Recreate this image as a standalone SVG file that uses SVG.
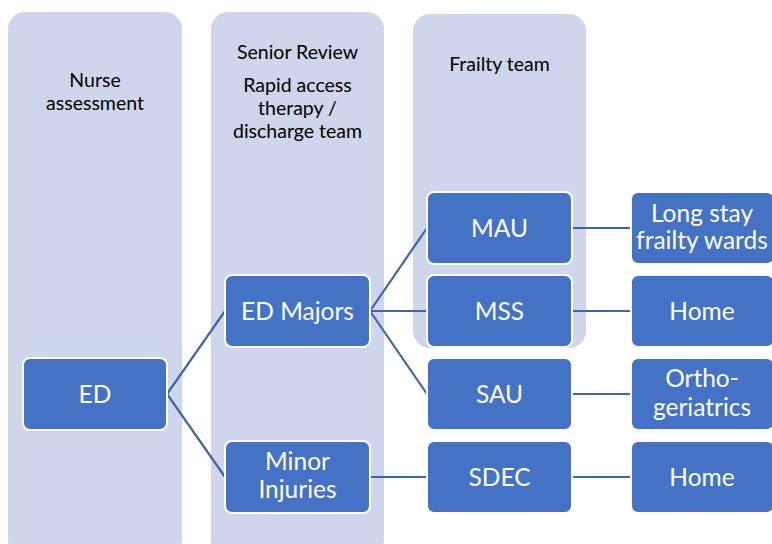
<svg xmlns="http://www.w3.org/2000/svg" width="772" height="544" viewBox="0 0 772 544">
<style>
.col{fill:#CFD5EA}
.node{fill:#4472C4;stroke:#FFFFFF;stroke-width:2}
.hdr{font-family:Lato,"Open Sans","Liberation Sans",sans-serif;font-size:19.5px;fill:#000;text-anchor:middle}
.lbl{font-family:Lato,"Open Sans","Liberation Sans",sans-serif;font-size:24.5px;fill:#FFF;text-anchor:middle}
.conn{stroke:#3F64A8;stroke-width:2.2;fill:none}
</style>
<rect width="772" height="544" fill="#FFFFFF"/>
<g id="columns">
<rect class="col" x="8" y="12" width="174" height="545" rx="17"/>
<rect class="col" x="211" y="12" width="173" height="545" rx="17"/>
<rect class="col" x="413" y="14" width="173" height="334" rx="17"/>
<text class="hdr" x="95" y="87">Nurse</text>
<text class="hdr" x="95" y="110">assessment</text>
<text class="hdr" x="297.5" y="59">Senior Review</text>
<text class="hdr" x="297.5" y="92">Rapid access</text>
<text class="hdr" x="297.5" y="115">therapy /</text>
<text class="hdr" x="297.5" y="138">discharge team</text>
<text class="hdr" x="499.5" y="71">Frailty team</text>
</g>
<g id="connectors">
<polyline class="conn" points="225,311 167,394 225,477"/>
<line class="conn" x1="370" y1="311" x2="427" y2="228"/>
<line class="conn" x1="370" y1="311" x2="427" y2="311"/>
<line class="conn" x1="370" y1="311" x2="427" y2="394"/>
<line class="conn" x1="370" y1="477" x2="427" y2="477"/>
<line class="conn" x1="572" y1="228" x2="631" y2="228"/>
<line class="conn" x1="572" y1="311" x2="631" y2="311"/>
<line class="conn" x1="572" y1="394" x2="631" y2="394"/>
<line class="conn" x1="572" y1="477" x2="631" y2="477"/>
</g>
<g id="ed"><rect class="node" x="23" y="358" width="144" height="72" rx="7"/><text class="lbl" x="95" y="403">ED</text></g>
<g id="ed-majors"><rect class="node" x="225" y="275" width="145" height="72" rx="7"/><text class="lbl" x="297.5" y="320">ED Majors</text></g>
<g id="minor-injuries"><rect class="node" x="225" y="441" width="145" height="72" rx="7"/><text class="lbl" x="297.5" y="470">Minor</text><text class="lbl" x="297.5" y="498">Injuries</text></g>
<g id="mau"><rect class="node" x="427" y="192" width="145" height="72" rx="7"/><text class="lbl" x="499.5" y="237">MAU</text></g>
<g id="mss"><rect class="node" x="427" y="275" width="145" height="72" rx="7"/><text class="lbl" x="499.5" y="320">MSS</text></g>
<g id="sau"><rect class="node" x="427" y="358" width="145" height="72" rx="7"/><text class="lbl" x="499.5" y="403">SAU</text></g>
<g id="sdec"><rect class="node" x="427" y="441" width="145" height="72" rx="7"/><text class="lbl" x="499.5" y="486">SDEC</text></g>
<g id="long-stay"><rect class="node" x="631" y="192" width="143" height="72" rx="7"/><text class="lbl" x="702" y="222">Long stay</text><text class="lbl" x="702" y="249">frailty wards</text></g>
<g id="home1"><rect class="node" x="631" y="275" width="143" height="72" rx="7"/><text class="lbl" x="702" y="320">Home</text></g>
<g id="ortho"><rect class="node" x="631" y="358" width="143" height="72" rx="7"/><text class="lbl" x="702" y="387">Ortho-</text><text class="lbl" x="702" y="416">geriatrics</text></g>
<g id="home2"><rect class="node" x="631" y="441" width="143" height="72" rx="7"/><text class="lbl" x="702" y="486">Home</text></g>
</svg>
